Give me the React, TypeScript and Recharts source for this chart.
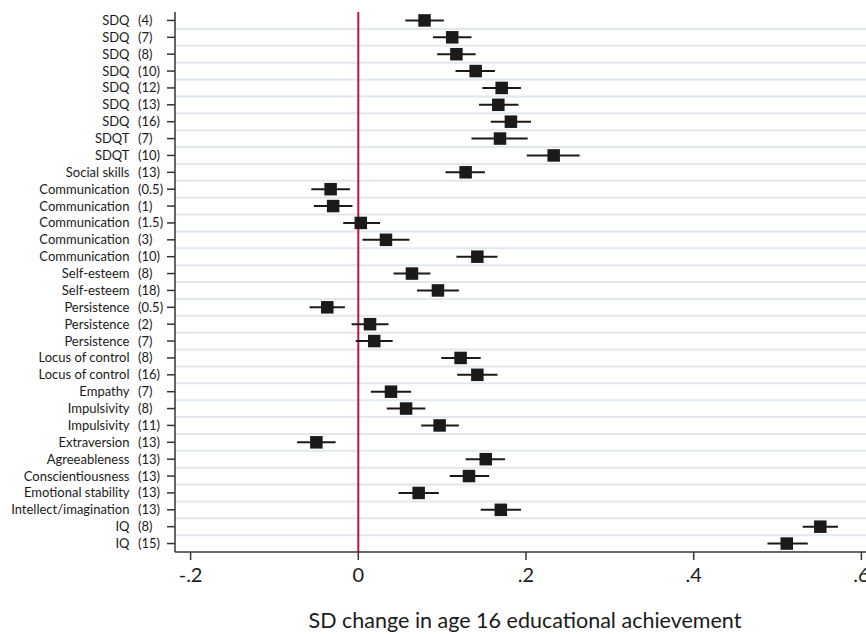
import React from "react"
import { ScatterChart, Scatter, XAxis, YAxis, CartesianGrid, ReferenceLine, ErrorBar } from "recharts"

// measures (left part of the label) and age in brackets
const measures = [
  "SDQ", "SDQ", "SDQ", "SDQ", "SDQ", "SDQ", "SDQ", "SDQT", "SDQT", "Social skills",
  "Communication", "Communication", "Communication", "Communication", "Communication",
  "Self-esteem", "Self-esteem", "Persistence", "Persistence", "Persistence",
  "Locus of control", "Locus of control", "Empathy", "Impulsivity", "Impulsivity",
  "Extraversion", "Agreeableness", "Conscientiousness", "Emotional stability",
  "Intellect/imagination", "IQ", "IQ",
]
const ages = [
  "4", "7", "8", "10", "12", "13", "16", "7", "10", "13",
  "0.5", "1", "1.5", "3", "10",
  "8", "18", "0.5", "2", "7",
  "8", "16", "7", "8", "11",
  "13", "13", "13", "13", "13", "8", "15",
]

// point estimates and 95% CI (SD change)
const estimates = [
  0.079, 0.112, 0.117, 0.140, 0.171, 0.167, 0.182, 0.169, 0.233, 0.128,
  -0.033, -0.030, 0.003, 0.033, 0.142,
  0.064, 0.095, -0.037, 0.014, 0.019,
  0.122, 0.142, 0.039, 0.057, 0.097,
  -0.050, 0.152, 0.132, 0.072, 0.170, 0.551, 0.511,
]
const lower = [
  0.056, 0.089, 0.094, 0.116, 0.148, 0.144, 0.158, 0.135, 0.201, 0.104,
  -0.056, -0.053, -0.018, 0.005, 0.117,
  0.042, 0.070, -0.058, -0.008, -0.003,
  0.099, 0.118, 0.015, 0.034, 0.075,
  -0.073, 0.128, 0.109, 0.048, 0.146, 0.530, 0.488,
]
const upper = [
  0.102, 0.135, 0.140, 0.163, 0.194, 0.191, 0.206, 0.202, 0.264, 0.151,
  -0.010, -0.007, 0.026, 0.061, 0.166,
  0.086, 0.120, -0.016, 0.036, 0.041,
  0.146, 0.166, 0.063, 0.080, 0.120,
  -0.027, 0.175, 0.156, 0.096, 0.194, 0.572, 0.536,
]

const xTicks = [-0.2, 0, 0.2, 0.4, 0.6]
const xTickLabels = ["-.2", "0", ".2", ".4", ".6"]

const rows = estimates.map((est, i) => ({
  row: i + 1,
  est,
  err: [est - lower[i], upper[i] - est],
}))
const rowTicks = rows.map((r) => r.row)
const gridValues = rows.slice(0, -1).map((r) => r.row + 0.5)

const FONT = "Lato, 'Noto Sans', sans-serif"
const INK = "#1a1a1a"

const YTick = (props: any) => {
  const { x, y, payload } = props
  const i = payload.value - 1
  return (
    <g fontFamily={FONT} fontSize={13} fill={INK}>
      <text x={x - 35.5} y={y} dy="0.35em" textAnchor="end">{measures[i]}</text>
      <text x={x - 27} y={y} dy="0.35em" textAnchor="start">({ages[i]})</text>
    </g>
  )
}

const XTick = (props: any) => {
  const { x, y, payload } = props
  const idx = xTicks.indexOf(payload.value)
  return (
    <text x={x} y={y + 20} textAnchor="middle" fontFamily={FONT} fontSize={20} fill={INK}>
      {idx >= 0 ? xTickLabels[idx] : payload.value}
    </text>
  )
}

const Square = (props: any) => {
  const { cx, cy } = props
  if (cx == null || cy == null) return null
  return <rect x={cx - 6.25} y={cy - 6.25} width={12.5} height={12.5} fill={INK} />
}

export default function App() {
  return (
    <div style={{ position: "absolute", left: 0, top: 0, width: 866, height: 634, background: "#fff" }}>
      <ScatterChart width={866} height={634} margin={{ top: 12, right: 0, bottom: 0, left: 0 }}>
        <CartesianGrid vertical={false} horizontalValues={gridValues} stroke="#e1e8ee" strokeWidth={2} />
        <XAxis
          type="number"
          dataKey="est"
          domain={[-0.2186, 0.6055]}
          allowDataOverflow
          ticks={xTicks}
          interval={0}
          height={82}
          tickSize={8}
          stroke="#333"
          strokeWidth={1.5}
          tick={<XTick />}
          label={{
            content: () => (
              <text x={525} y={628} textAnchor="middle" fontFamily={FONT} fontSize={21.5} fill={INK}>
                SD change in age 16 educational achievement
              </text>
            ),
          }}
        />
        <YAxis
          type="number"
          dataKey="row"
          domain={[0.5, 32.5]}
          reversed
          ticks={rowTicks}
          interval={0}
          width={175}
          tickSize={8}
          stroke="#333"
          strokeWidth={1.5}
          tick={<YTick />}
        />
        <ReferenceLine x={0} stroke="#c8143c" strokeWidth={2} />
        <Scatter data={rows} shape={<Square />} isAnimationActive={false}>
          <ErrorBar dataKey="err" direction="x" width={0} stroke={INK} strokeWidth={2} isAnimationActive={false} />
        </Scatter>
      </ScatterChart>
    </div>
  )
}
